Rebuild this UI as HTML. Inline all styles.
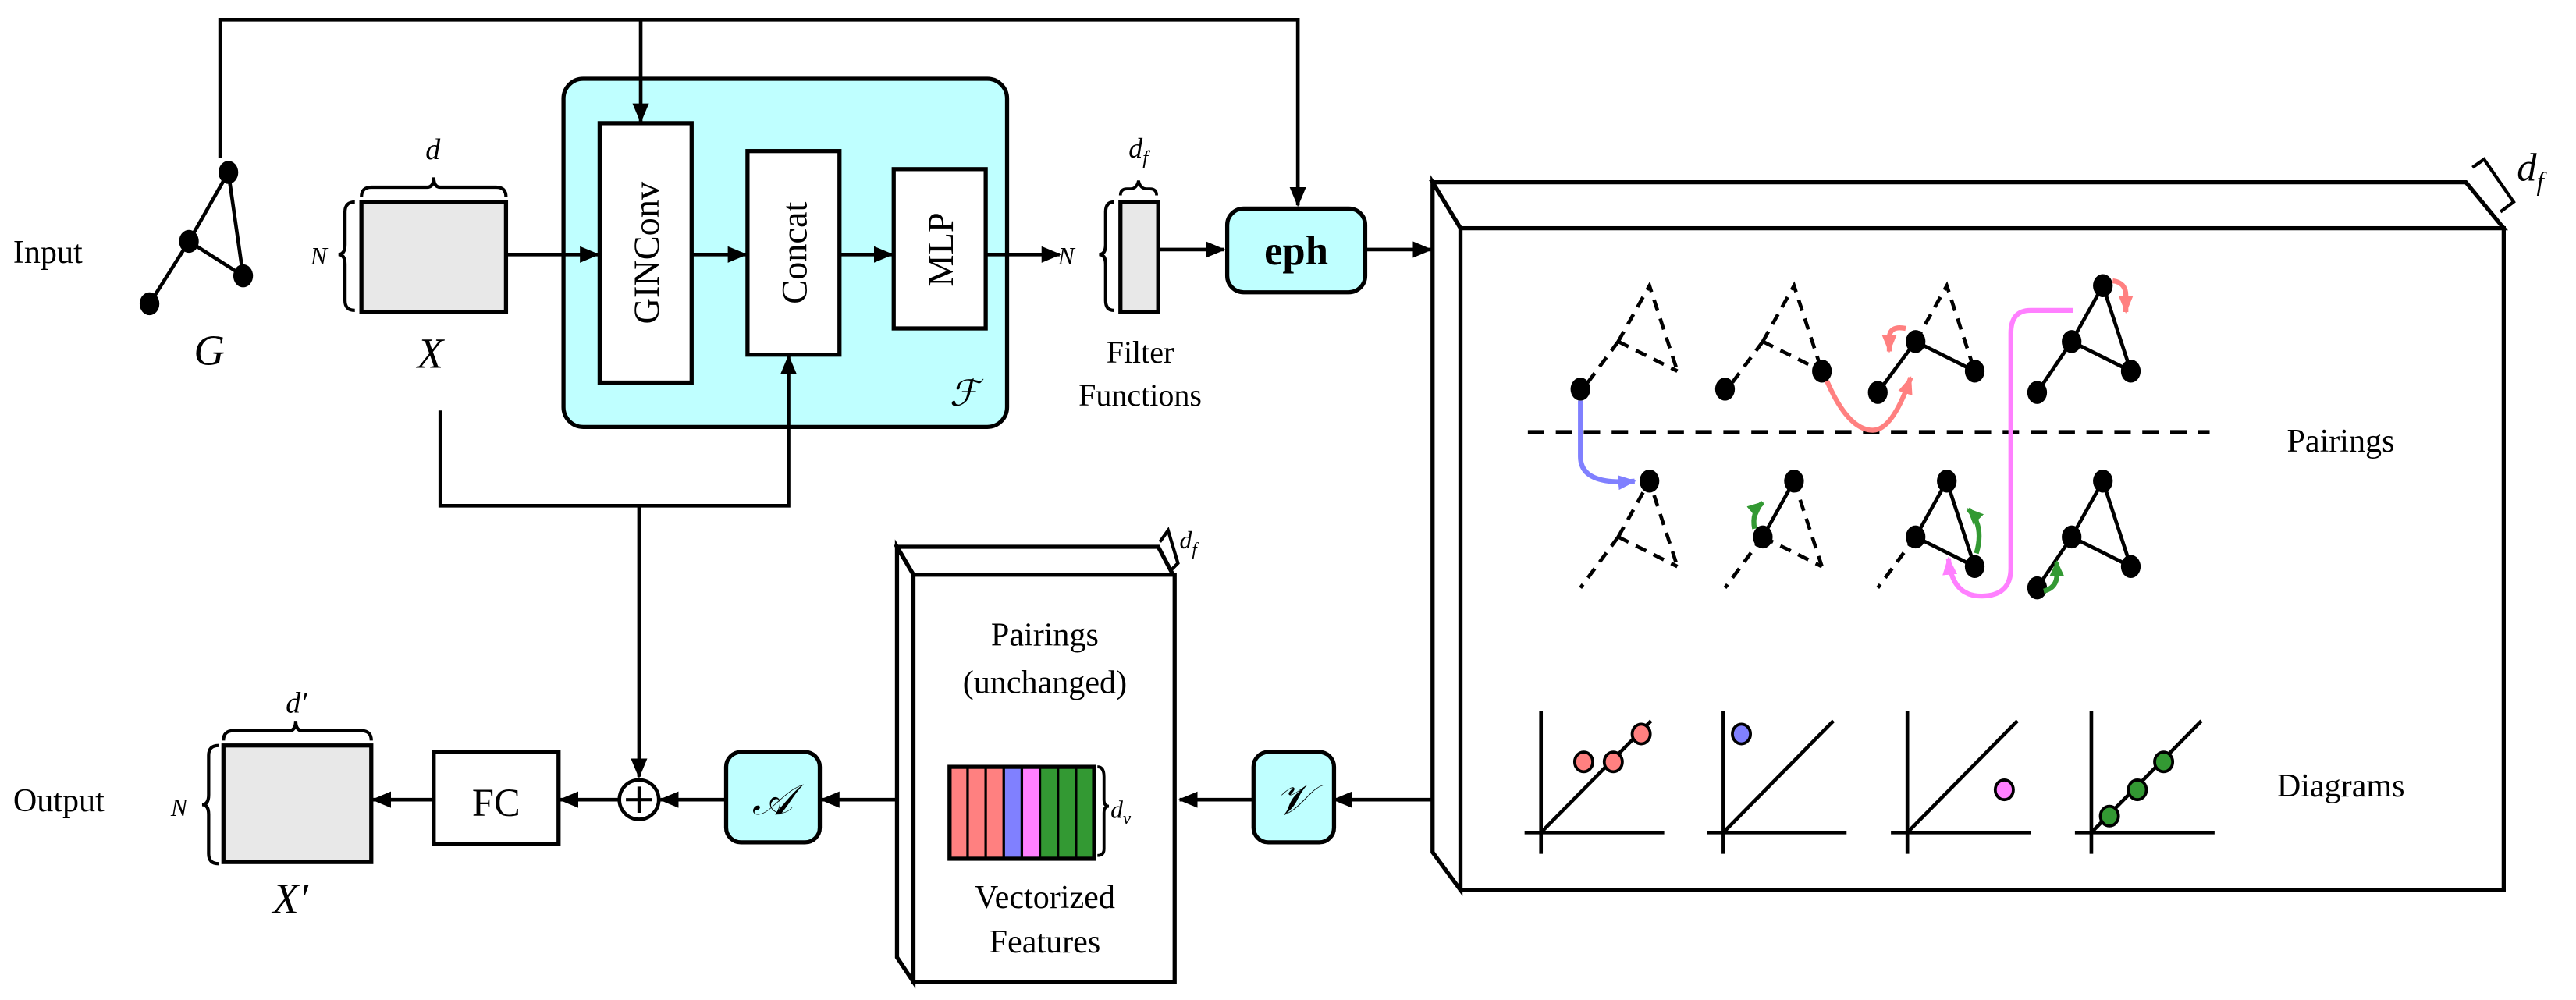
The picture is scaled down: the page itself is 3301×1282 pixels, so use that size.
<!DOCTYPE html>
<html><head><meta charset="utf-8"><style>
html,body{margin:0;padding:0;background:#fff}
svg{display:block}
text{font-family:"Liberation Serif",serif;fill:#000}
</style></head><body>
<svg width="3301" height="1282" viewBox="0 0 1568 609" preserveAspectRatio="none" xmlns="http://www.w3.org/2000/svg">
<defs>
<marker id="ar" markerWidth="12" markerHeight="10" refX="11" refY="5" orient="auto" markerUnits="userSpaceOnUse"><path d="M0,0 L12,5 L0,10 Z" fill="#000"/></marker>
<marker id="ab" markerWidth="11" markerHeight="9" refX="10" refY="4.5" orient="auto" markerUnits="userSpaceOnUse"><path d="M0,0 L11,4.5 L0,9 Z" fill="#8080ff"/></marker>
<marker id="arr" markerWidth="11" markerHeight="9" refX="10" refY="4.5" orient="auto" markerUnits="userSpaceOnUse"><path d="M0,0 L11,4.5 L0,9 Z" fill="#ff8080"/></marker>
<marker id="ap" markerWidth="11" markerHeight="9" refX="10" refY="4.5" orient="auto" markerUnits="userSpaceOnUse"><path d="M0,0 L11,4.5 L0,9 Z" fill="#ff80ff"/></marker>
<marker id="ag" markerWidth="10" markerHeight="9" refX="9" refY="4.5" orient="auto" markerUnits="userSpaceOnUse"><path d="M0,0 L10,4.5 L0,9 Z" fill="#339933"/></marker>
</defs>
<g stroke="#000" stroke-width="2.2" fill="none">
<path d="M139,105 L115,147 L91,185 M115,147 L148,168 L139,105"/>
</g>
<g fill="#000"><ellipse cx="139" cy="105" rx="6" ry="7"/><ellipse cx="115" cy="147" rx="6" ry="7"/><ellipse cx="148" cy="168" rx="6" ry="7"/><ellipse cx="91" cy="185" rx="6" ry="7"/></g>
<text x="8" y="160" font-size="20">Input</text>
<text x="118" y="222" font-size="26" font-style="italic">G</text>

<!-- X -->
<rect x="220" y="123" width="88" height="67" fill="#e8e8e8" stroke="#000" stroke-width="2.5"/>
<path d="M220,120 q0,-6 6,-6 l34,0 q4,0 4,-6 q0,6 4,6 l34,0 q6,0 6,6" stroke="#000" stroke-width="2" fill="none"/>
<text x="259" y="97" font-size="18" font-style="italic">d</text>
<path d="M216,123 q-6,0 -6,6 l0,20 q0,6 -4,6 q4,0 4,6 l0,22 q0,6 6,6" stroke="#000" stroke-width="2" fill="none"/>
<text x="189" y="161" font-size="15" font-style="italic">N</text>
<text x="254" y="224" font-size="26" font-style="italic">X</text>

<!-- F box -->
<rect x="343" y="48" width="270" height="212" rx="12" fill="#bfffff" stroke="#000" stroke-width="2.5"/>
<text x="578" y="247" font-size="22" font-style="italic">ℱ</text>
<rect x="365" y="75" width="56" height="158" fill="#fff" stroke="#000" stroke-width="2.5"/>
<text transform="translate(401,154) rotate(-90)" font-size="22" text-anchor="middle">GINConv</text>
<rect x="455" y="92" width="56" height="124" fill="#fff" stroke="#000" stroke-width="2.5"/>
<text transform="translate(491,154) rotate(-90)" font-size="22" text-anchor="middle">Concat</text>
<rect x="544" y="103" width="56" height="97" fill="#fff" stroke="#000" stroke-width="2.5"/>
<text transform="translate(580,152) rotate(-90)" font-size="22" text-anchor="middle">MLP</text>
<g stroke="#000" stroke-width="2.2" fill="none">
<path d="M134,96 L134,12 L790,12 L790,125" marker-end="url(#ar)"/>
<path d="M390,12 L390,74" marker-end="url(#ar)"/>
<path d="M308,155 L364,155" marker-end="url(#ar)"/>
<path d="M421,155 L454,155" marker-end="url(#ar)"/>
<path d="M511,155 L543,155" marker-end="url(#ar)"/>
<path d="M600,155 L645,155" marker-end="url(#ar)"/>
<path d="M268,250 L268,308 L480,308 L480,217" marker-end="url(#ar)"/>
<path d="M389,308 L389,473" marker-end="url(#ar)"/>
</g>
<!-- df matrix -->
<text x="644" y="161" font-size="15" font-style="italic">N</text>
<path d="M678,123 q-5,0 -5,6 l0,20 q0,6 -4,6 q4,0 4,6 l0,22 q0,6 5,6" stroke="#000" stroke-width="2" fill="none"/>
<rect x="682" y="123" width="23" height="67" fill="#e8e8e8" stroke="#000" stroke-width="2.5"/>
<path d="M682,119 q0,-4 4,-4 l2,0 q4,0 5,-5 q1,5 5,5 l2,0 q4,0 4,4" stroke="#000" stroke-width="1.8" fill="none"/>
<text x="687" y="96" font-size="17" font-style="italic">d<tspan font-size="12" dy="4">f</tspan></text>
<text x="694" y="221" font-size="19" text-anchor="middle">Filter</text>
<text x="694" y="247" font-size="19" text-anchor="middle">Functions</text>
<path d="M705,152 L745,152" stroke="#000" stroke-width="2.2" marker-end="url(#ar)"/>
<rect x="747" y="127" width="84" height="51" rx="10" fill="#bfffff" stroke="#000" stroke-width="2.5"/>
<text x="789" y="161" font-size="25" font-weight="bold" text-anchor="middle">eph</text>
<path d="M831,152 L871,152" stroke="#000" stroke-width="2.2" marker-end="url(#ar)"/>

<!-- big 3D box -->
<g stroke="#000" stroke-width="2.5" fill="#fff" stroke-linejoin="miter">
<path d="M872,111 L1501,111 L1524,139 L889,139 Z"/>
<path d="M872,111 L889,139 L889,542 L872,519 Z"/>
<rect x="889" y="139" width="635" height="403"/>
</g>
<path d="M1505,102 L1512,97 L1530,123 L1522,129" stroke="#000" stroke-width="2" fill="none"/>
<text x="1532" y="110" font-size="24" font-style="italic">d<tspan font-size="16" dy="6">f</tspan></text>
<path d="M930,263 L1345,263" stroke="#000" stroke-width="2.2" stroke-dasharray="10,7"/>
<text x="1392" y="275" font-size="20">Pairings</text>
<text x="1386" y="485" font-size="20">Diagrams</text>

<!-- pairing graphs -->
<g stroke="#000" stroke-width="2.2" fill="none">
<g stroke-dasharray="7,5"><path d="M985,208 l19,-34 l17,52 M985,208 l36,18 M985,208 l-23,31"/></g>
<g stroke-dasharray="7,5"><path d="M1073,208 l19,-34 l17,52 M1073,208 l36,18 M1073,208 l-23,31"/></g>
<g stroke-dasharray="7,5"><path d="M1166,208 l19,-34 l17,52"/></g>
<path d="M1166,208 l36,18 M1166,208 l-23,31"/>
<path d="M1261,208 l19,-34 l17,52 M1261,208 l36,18 M1261,208 l-21,31"/>
<g stroke-dasharray="7,5"><path d="M985,327 l19,-34 l17,52 M985,327 l36,18 M985,327 l-23,31"/></g>
<g stroke-dasharray="7,5"><path d="M1092,293 l17,52 M1073,327 l36,18 M1073,327 l-23,31"/></g>
<path d="M1073,327 l19,-34"/>
<g stroke-dasharray="7,5"><path d="M1166,327 l-23,31"/></g>
<path d="M1166,327 l19,-34 l17,52 M1166,327 l36,18"/>
<path d="M1261,327 l19,-34 l17,52 M1261,327 l36,18 M1261,327 l-21,31"/>
</g>
<g fill="#000">
<ellipse cx="962" cy="237" rx="6" ry="7"/>
<ellipse cx="1050" cy="237" rx="6" ry="7"/><ellipse cx="1109" cy="226" rx="6" ry="7"/>
<ellipse cx="1166" cy="208" rx="6" ry="7"/><ellipse cx="1202" cy="226" rx="6" ry="7"/><ellipse cx="1143" cy="239" rx="6" ry="7"/>
<ellipse cx="1280" cy="174" rx="6" ry="7"/><ellipse cx="1261" cy="208" rx="6" ry="7"/><ellipse cx="1297" cy="226" rx="6" ry="7"/><ellipse cx="1240" cy="239" rx="6" ry="7"/>
<ellipse cx="1004" cy="293" rx="6" ry="7"/>
<ellipse cx="1092" cy="293" rx="6" ry="7"/><ellipse cx="1073" cy="327" rx="6" ry="7"/>
<ellipse cx="1185" cy="293" rx="6" ry="7"/><ellipse cx="1166" cy="327" rx="6" ry="7"/><ellipse cx="1202" cy="345" rx="6" ry="7"/>
<ellipse cx="1280" cy="293" rx="6" ry="7"/><ellipse cx="1261" cy="327" rx="6" ry="7"/><ellipse cx="1297" cy="345" rx="6" ry="7"/><ellipse cx="1240" cy="358" rx="6" ry="7"/>
</g>
<g fill="none" stroke-width="3">
<path d="M962,244 L962,278 Q962,296 995,293" stroke="#8080ff" marker-end="url(#ab)"/>
<path d="M1112,232 Q1125,262 1140,262 Q1152,262 1163,230" stroke="#ff8080" marker-end="url(#arr)"/>
<path d="M1160,200 Q1150,198 1150,206 L1150,214" stroke="#ff8080" marker-end="url(#arr)"/>
<path d="M1286,171 Q1294,172 1294,180 L1294,190" stroke="#ff8080" marker-end="url(#arr)"/>
<path d="M1262,189 L1236,189 Q1224,189 1224,203 L1224,346 Q1224,363 1206,363 Q1188,363 1186,340" stroke="#ff80ff" marker-end="url(#ap)"/>
<path d="M1068,322 Q1066,312 1073,306" stroke="#339933" marker-end="url(#ag)"/>
<path d="M1203,337 Q1208,320 1198,310" stroke="#339933" marker-end="url(#ag)"/>
<path d="M1244,360 Q1252,358 1252,350 L1252,342" stroke="#339933" marker-end="url(#ag)"/>
</g>
<!-- diagrams -->
<g stroke="#000" stroke-width="2.2" fill="none">
<path d="M938,433 L938,520 M928,507 L1013,507 M938,507 L1005,439"/>
<path d="M1049,433 L1049,520 M1039,507 L1124,507 M1049,507 L1116,439"/>
<path d="M1161,433 L1161,520 M1151,507 L1236,507 M1161,507 L1228,439"/>
<path d="M1273,433 L1273,520 M1263,507 L1348,507 M1273,507 L1340,439"/>
</g>
<g stroke="#000" stroke-width="1.8">
<ellipse cx="964" cy="464" rx="5.5" ry="6" fill="#ff8080"/><ellipse cx="982" cy="464" rx="5.5" ry="6" fill="#ff8080"/><ellipse cx="999" cy="447" rx="5.5" ry="6" fill="#ff8080"/>
<ellipse cx="1060" cy="447" rx="5.5" ry="6" fill="#8080ff"/>
<ellipse cx="1220" cy="481" rx="5.5" ry="6" fill="#ff80ff"/>
<ellipse cx="1284" cy="497" rx="5.5" ry="6" fill="#339933"/><ellipse cx="1301" cy="481" rx="5.5" ry="6" fill="#339933"/><ellipse cx="1317" cy="464" rx="5.5" ry="6" fill="#339933"/>
</g>

<!-- V box -->
<path d="M872,487 L812,487" stroke="#000" stroke-width="2.2" marker-end="url(#ar)"/>
<rect x="763" y="458" width="49" height="55" rx="9" fill="#bfffff" stroke="#000" stroke-width="2.5"/>
<text x="787" y="496" font-size="26" font-style="italic" text-anchor="middle">𝒱</text>
<path d="M763,487 L718,487" stroke="#000" stroke-width="2.2" marker-end="url(#ar)"/>

<!-- vector box -->
<g stroke="#000" stroke-width="2.5" fill="#fff">
<path d="M546,333 L705,333 L714,350 L556,350 Z"/>
<path d="M546,333 L556,350 L556,598 L546,583 Z"/>
<rect x="556" y="350" width="159" height="248"/>
</g>
<path d="M706,330 L711,323 L717,343 L712,348" stroke="#000" stroke-width="2" fill="none"/>
<text x="718" y="334" font-size="15" font-style="italic">d<tspan font-size="11" dy="4">f</tspan></text>
<text x="636" y="393" font-size="20" text-anchor="middle">Pairings</text>
<text x="636" y="422" font-size="20" text-anchor="middle">(unchanged)</text>
<g stroke="#000" stroke-width="1.5">
<rect x="578" y="467" width="11" height="56" fill="#ff8080"/><rect x="589" y="467" width="11" height="56" fill="#ff8080"/><rect x="600" y="467" width="11" height="56" fill="#ff8080"/>
<rect x="611" y="467" width="11" height="56" fill="#8080ff"/><rect x="622" y="467" width="11" height="56" fill="#ff80ff"/>
<rect x="633" y="467" width="11" height="56" fill="#339933"/><rect x="644" y="467" width="11" height="56" fill="#339933"/><rect x="655" y="467" width="11" height="56" fill="#339933"/>
</g>
<rect x="578" y="467" width="88" height="56" fill="none" stroke="#000" stroke-width="2.5"/>
<path d="M668,467 q4,0 4,6 l0,14 q0,4 3,4 q-3,0 -3,4 l0,22 q0,4 -4,4" stroke="#000" stroke-width="1.8" fill="none"/>
<text x="676" y="498" font-size="15" font-style="italic">d<tspan font-size="11" dy="4">v</tspan></text>
<text x="636" y="553" font-size="20" text-anchor="middle">Vectorized</text>
<text x="636" y="580" font-size="20" text-anchor="middle">Features</text>

<!-- A, plus, FC -->
<path d="M546,487 L500,487" stroke="#000" stroke-width="2.2" marker-end="url(#ar)"/>
<rect x="442" y="458" width="57" height="55" rx="9" fill="#bfffff" stroke="#000" stroke-width="2.5"/>
<text x="470" y="496" font-size="26" font-style="italic" text-anchor="middle">𝒜</text>
<path d="M442,487 L402,487" stroke="#000" stroke-width="2.2" marker-end="url(#ar)"/>
<circle cx="389" cy="487" r="12" fill="#fff" stroke="#000" stroke-width="2.2"/>
<path d="M381,487 L397,487 M389,479 L389,495" stroke="#000" stroke-width="2"/>
<path d="M377,487 L341,487" stroke="#000" stroke-width="2.2" marker-end="url(#ar)"/>
<rect x="264" y="458" width="76" height="56" fill="#fff" stroke="#000" stroke-width="2.5"/>
<text x="302" y="497" font-size="24" text-anchor="middle">FC</text>
<path d="M264,487 L227,487" stroke="#000" stroke-width="2.2" marker-end="url(#ar)"/>
<rect x="136" y="454" width="90" height="71" fill="#e8e8e8" stroke="#000" stroke-width="2.5"/>
<path d="M136,451 q0,-6 6,-6 l34,0 q4,0 4,-6 q0,6 4,6 l36,0 q6,0 6,6" stroke="#000" stroke-width="2" fill="none"/>
<text x="174" y="434" font-size="18" font-style="italic">d′</text>
<path d="M133,454 q-6,0 -6,6 l0,24 q0,6 -4,6 q4,0 4,6 l0,24 q0,6 6,6" stroke="#000" stroke-width="2" fill="none"/>
<text x="104" y="497" font-size="15" font-style="italic">N</text>
<text x="166" y="556" font-size="26" font-style="italic">X′</text>
<text x="8" y="494" font-size="20">Output</text>
</svg>
</body></html>
